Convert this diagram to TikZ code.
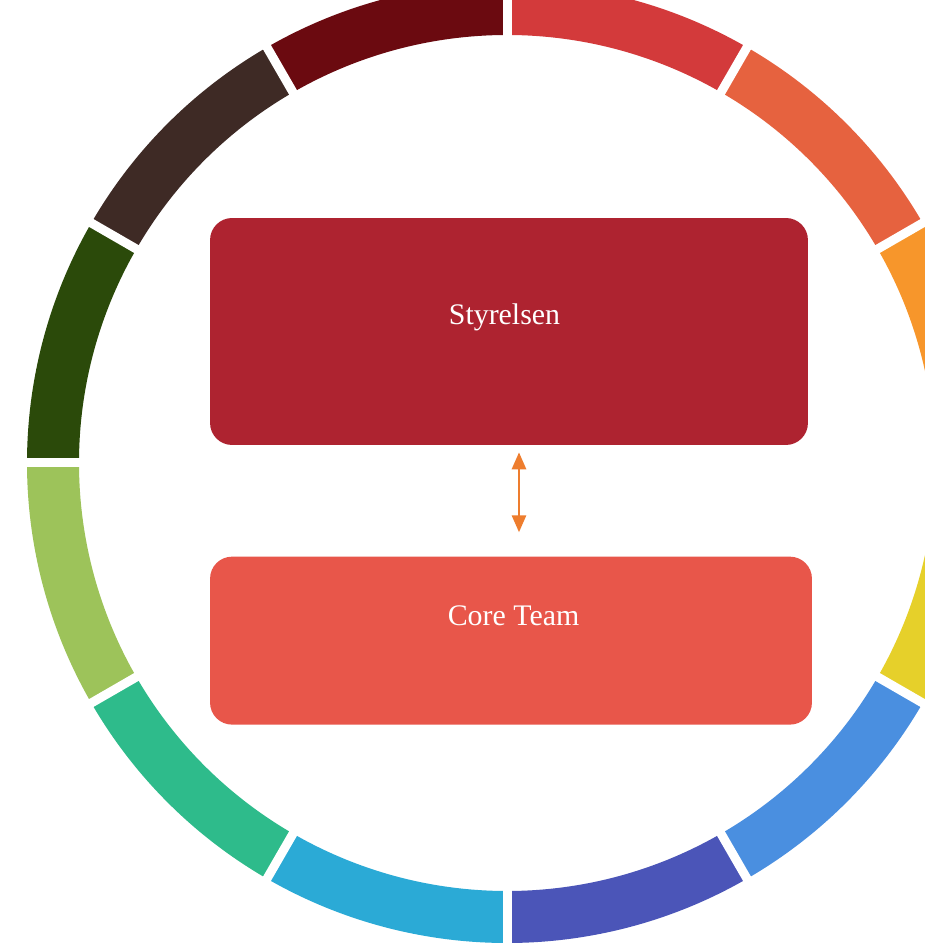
\documentclass[tikz,border=0pt]{standalone}
\usepackage{fontspec}
\setmainfont{Liberation Serif}
\usetikzlibrary{arrows.meta,positioning,calc}
\definecolor{boardred}{HTML}{AE2330}
\definecolor{teamred}{HTML}{E8564A}
\definecolor{linkorange}{HTML}{EE7D2E}
\definecolor{ringA}{HTML}{D33A3B}
\definecolor{ringB}{HTML}{E6623F}
\definecolor{ringC}{HTML}{F7962B}
\definecolor{ringD}{HTML}{E6D02A}
\definecolor{ringE}{HTML}{4A8FE0}
\definecolor{ringF}{HTML}{4B55B8}
\definecolor{ringG}{HTML}{2BAAD6}
\definecolor{ringH}{HTML}{2EBB8B}
\definecolor{ringI}{HTML}{9DC35A}
\definecolor{ringJ}{HTML}{2B4A0A}
\definecolor{ringK}{HTML}{3E2A25}
\definecolor{ringL}{HTML}{6B0A10}
\tikzset{
    board/.style={
        rectangle,
        rounded corners=0.44cm,
        fill=boardred,
        minimum width=11.96cm,
        minimum height=4.54cm,
        inner sep=0pt,
    },
    team/.style={
        rectangle,
        rounded corners=0.44cm,
        fill=teamred,
        minimum width=12.04cm,
        minimum height=3.36cm,
        inner sep=0pt,
    },
    boxlabel/.style={
        text=white,
        font=\fontsize{17}{20}\selectfont,
        inner sep=0pt,
        anchor=base,
    },
    link/.style={
        draw=linkorange,
        line width=1.6pt,
        {Triangle[length=0.34cm,width=0.28cm]}-{Triangle[length=0.34cm,width=0.28cm]},
    },
    gap/.style={
        draw=white,
        line width=0.18cm,
    },
}

\begin{document}
\begin{tikzpicture}[x=0.02cm,y=0.02cm]
    \useasboundingbox (0,0) rectangle (925,944);
    \fill[white] (0,0) rectangle (925,944);
    \clip (0,0) rectangle (925,944);

    % colour ring, clockwise from the top
    \begin{scope}[shift={(507,481)}]
        \foreach \col [count=\i] in {ringA,ringB,ringC,ringD,ringE,ringF,ringG,ringH,ringI,ringJ,ringK,ringL} {
            \pgfmathsetmacro{\s}{90-30*\i}
            \pgfmathsetmacro{\e}{120-30*\i}
            \fill[\col] (\s:428) arc[start angle=\s, end angle=\e, radius=428]
                -- (\e:480) arc[start angle=\e, end angle=\s, radius=480] -- cycle;
        }
        \foreach \a in {0,30,...,330}
            \draw[gap] (\a:420) -- (\a:490);
    \end{scope}

    % boxes
    \node[board] (styrelsen) at (509,612.5) {};
    \node[team, below=2.22cm of styrelsen, xshift=0.04cm] (coreteam) {};
    \node[boxlabel] (styrelsen-text) at ([shift={(-0.09cm,0.13cm)}]styrelsen.center) {Styrelsen};
    \node[boxlabel] (coreteam-text) at ([shift={(0.05cm,0.3cm)}]coreteam.center) {Core Team};

    \draw[link, shorten <=0.14cm, shorten >=0.48cm] ([xshift=0.2cm]styrelsen.south) -- ([xshift=0.2cm]styrelsen.south |- coreteam.north);
\end{tikzpicture}
\end{document}
